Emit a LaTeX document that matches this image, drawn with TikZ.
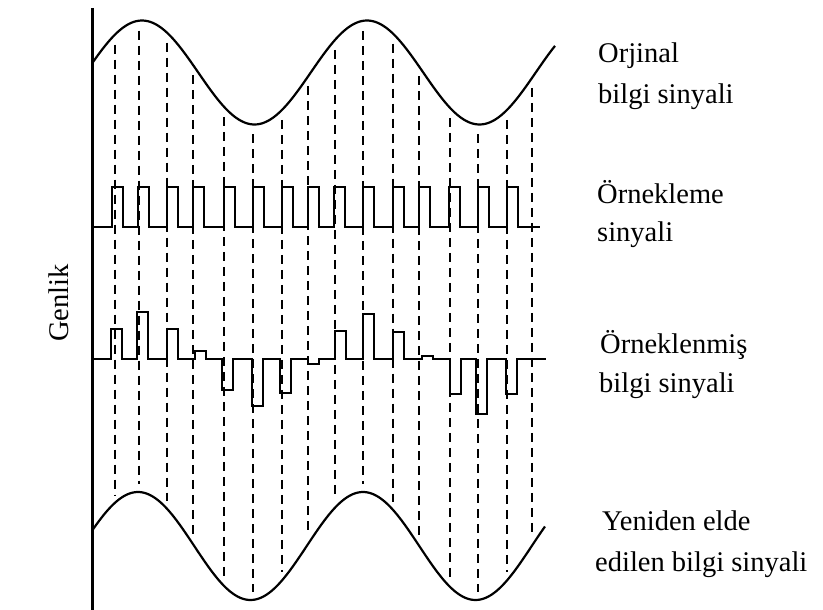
\documentclass[tikz,border=0pt]{standalone}
\usepackage{fontspec}
\setmainfont{Liberation Serif}
\begin{document}
\begin{tikzpicture}[x=1pt,y=-1pt,
  curve/.style={line width=2.2pt,line join=round},
  pulse/.style={line width=2pt,line join=miter},
  sampledash/.style={line width=1.5pt,dash pattern=on 9pt off 6pt},
  axisline/.style={line width=3pt},
  lbl/.style={anchor=base west,inner sep=0pt,font=\fontsize{28.5}{34}\selectfont}]
\useasboundingbox (0,0) rectangle (823,610);
% amplitude axis
\coordinate (axtop) at (92,8);
\coordinate (axbot) at (92,610);
\draw[axisline] (axtop) -- (axbot);
% sample lines
\foreach \x in {115,139,167,193,224,253,282,308,335,363,393,419,450,478,507,532}
  \draw[sampledash] (\x,{72.5-52*cos((\x-142)*1.6)+10}) -- (\x,{546-54*cos((\x-138)*1.6)-8});
% original signal
\draw[curve] plot[domain=92:555,samples=200,smooth] (\x,{72.5-52*cos((\x-142)*1.6)});
% sampling pulse train
\draw[pulse] (92,227)
  \foreach \l in {112,138,167,193,224,253,282,308,334,363,393,419,449,478,507}
  { -- (\l,227) -- (\l,187) -- (\l+11,187) -- (\l+11,227) }
  -- (540,227);
% sampled signal
\draw[pulse] (92,359)
  \foreach \l/\h in {111/30,137/47,167/30,195/8,222/-31,252/-47,280/-34,308/-5,335/28,363/45,393/27,422/3,450/-35,476/-55,506/-35}
  { -- (\l,359) -- (\l,{359-(\h)}) -- (\l+11,{359-(\h)}) -- (\l+11,359) }
  -- (546,359);
% recovered signal
\draw[curve] plot[domain=92:545,samples=200,smooth] (\x,{546-54*cos((\x-138)*1.6)});
% labels
\node[lbl] (l1a) at (598,63) {Orjinal};
\node[lbl] (l1b) at (598,103) {bilgi sinyali};
\node[lbl] (l2a) at (597,203) {Örnekleme};
\node[lbl] (l2b) at (597,241) {sinyali};
\node[lbl] (l3a) at (600,353) {Örneklenmiş};
\node[lbl] (l3b) at (599,392) {bilgi sinyali};
\node[lbl] (l4a) at (602,530) {Yeniden elde};
\node[lbl] (l4b) at (595,571) {edilen bilgi sinyali};
\node[inner sep=0pt,anchor=base,rotate=90,font=\fontsize{28.5}{34}\selectfont] (gen) at (68,303) {Genlik};
\end{tikzpicture}
\end{document}
